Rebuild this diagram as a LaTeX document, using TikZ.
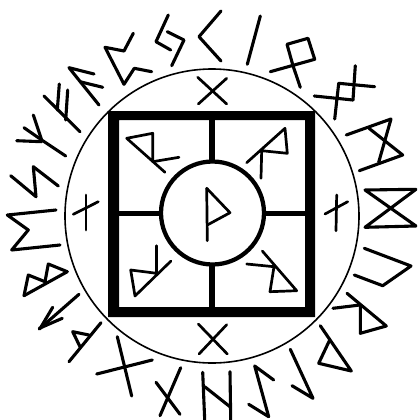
\documentclass[tikz,border=0pt]{standalone}
\begin{document}
\begin{tikzpicture}[x=0.02cm,y=-0.02cm,
  rune/.style={draw=black,line width=0.062cm,line cap=round,line join=round},
  thinrune/.style={draw=black,line width=0.054cm,line cap=round,line join=round}]
\useasboundingbox (0,0) rectangle (417,420);
\clip (0,0) rectangle (417,420);
% outer ring
\draw[line width=0.032cm] (212,216) circle (147);
% square and cross
\draw[line width=0.12cm] (212,115) -- (212,312);
\draw[line width=0.1cm] (113,213) -- (310,213);
\fill[black,even odd rule] (108,111) rectangle (315,317) (119,120) rectangle (305,307);
\draw[line width=0.085cm,fill=white] (212.5,213) circle (51.5);
% centre rune
\path[thinrune] (206.7,188.3) -- (207.3,240.7);
\path[thinrune] (206.7,188.3) -- (230,212.7) -- (207.3,225);
% inner square runes
\path[thinrune] (165,172.3) -- (126.7,138.3) -- (152.7,133.3) -- (152.7,160);
\path[thinrune] (152.7,161.7) -- (179,157.3);
\path[thinrune] (246.7,162.7) -- (285,128.3) -- (287.3,153.3) -- (261.7,150.7) -- (261,178.3);
\path[thinrune] (171,261) -- (135,296) -- (130.7,270) -- (156.7,273.3);
\path[thinrune] (156.7,245.7) -- (156.7,273.3);
\path[thinrune] (262.3,251) -- (296.7,290.7) -- (270,291.7) -- (274,266.7);
\path[thinrune] (246.7,264) -- (274,266.7);
% ring runes
\path[thinrune] (197.7,77.3) -- (226.7,104);
\path[thinrune] (226.7,78.3) -- (198.3,104);
\path[thinrune] (198.3,324) -- (227.3,354);
\path[thinrune] (226.7,324.7) -- (199,354);
\path[thinrune] (86,195) -- (86,230);
\path[thinrune] (73.3,214.3) -- (98.3,201.7);
\path[thinrune] (336.7,195) -- (336,230.7);
\path[thinrune] (325,214) -- (347.7,201.7);
% outer runes, clockwise from the top
\path[rune] (168.3,15) -- (156,41.7) -- (170.7,50);
\path[rune] (167.3,31.7) -- (184,40) -- (171.7,65.7);
\path[rune] (221,11) -- (199,36.7) -- (221,61);
\path[rune] (260.3,16) -- (247.3,64.3);
\path[rune] (270.3,71.7) -- (314.7,59.3) -- (308,38.3) -- (287,44.3) -- (293,65.7) -- (300.3,87.3);
\path[rune] (355.3,65.7) -- (353,100);
\path[rune] (338.7,83.3) -- (334.7,119);
\path[rune] (338.7,83.3) -- (374.7,86.7);
\path[rune] (314.3,96) -- (353,100);
\path[rune] (346.3,135) -- (391,119) -- (378.7,162.3);
\path[rune] (359.3,170.7) -- (402.7,155) -- (369,128.3);
\path[rune] (365,190) -- (416,189.3) -- (365,227.3) -- (416,226) -- cycle;
\path[rune] (364.3,248.3) -- (411,266) -- (382.7,285.7) -- (354.3,275);
\path[rune] (347,293.3) -- (386.3,326) -- (360.3,333.3) -- (360.3,306.7);
\path[rune] (333,308.3) -- (360,305);
\path[rune] (320.3,325.7) -- (351.3,371) -- (318.7,363.3) -- (329.7,340);
\path[rune] (290.3,349.3) -- (313,398.3) -- (292,385.7);
\path[rune] (273.7,380) -- (254.7,366) -- (268.7,416.7) -- (248.7,404.3);
\path[rune] (202.7,372.3) -- (204.7,420);
\path[rune] (230,371.7) -- (230.7,420);
\path[rune] (204.7,386.7) -- (230.7,407.3);
\path[rune] (180.7,367.7) -- (160,415.7);
\path[rune] (156,382.3) -- (180,414.3);
\path[rune] (117.3,336.7) -- (131.7,396);
\path[rune] (96.7,374) -- (152.3,360);
\path[rune] (101,322.7) -- (69,361.7);
\path[rune] (89,335) -- (72.7,331.7) -- (80,346.7);
\path[rune] (79,294.3) -- (39.3,329);
\path[rune] (52.7,307.3) -- (41,327);
\path[rune] (62.3,318.3) -- (39.3,328.3);
\path[rune] (24,295.7) -- (67.3,271.7) -- (48.3,264) -- (45,281.7);
\path[rune] (24,295.7) -- (28.3,275) -- (45,281.7);
\path[rune] (56,210) -- (7.3,215) -- (28.3,230) -- (11.7,250) -- (60,245);
\path[rune] (10.7,175.7) -- (36,196.7) -- (33.3,166.7) -- (58.3,186);
\path[rune] (65.7,156) -- (41.7,140) -- (33.3,115);
\path[rune] (24,127.7) -- (41.7,140);
\path[rune] (16.7,140.7) -- (41.7,141.7);
\path[rune] (80,131.7) -- (44,96);
\path[rune] (59.3,84) -- (57.3,110);
\path[rune] (67.7,90) -- (65.7,120);
\path[rune] (99,105) -- (69,67.7) -- (94,74);
\path[rune] (80,81.7) -- (102.7,87.3);
\path[rune] (133.3,33.3) -- (124,51) -- (105,47.3) -- (124,84.3) -- (134.3,68.3) -- (151.7,71.7);
\end{tikzpicture}
\end{document}
